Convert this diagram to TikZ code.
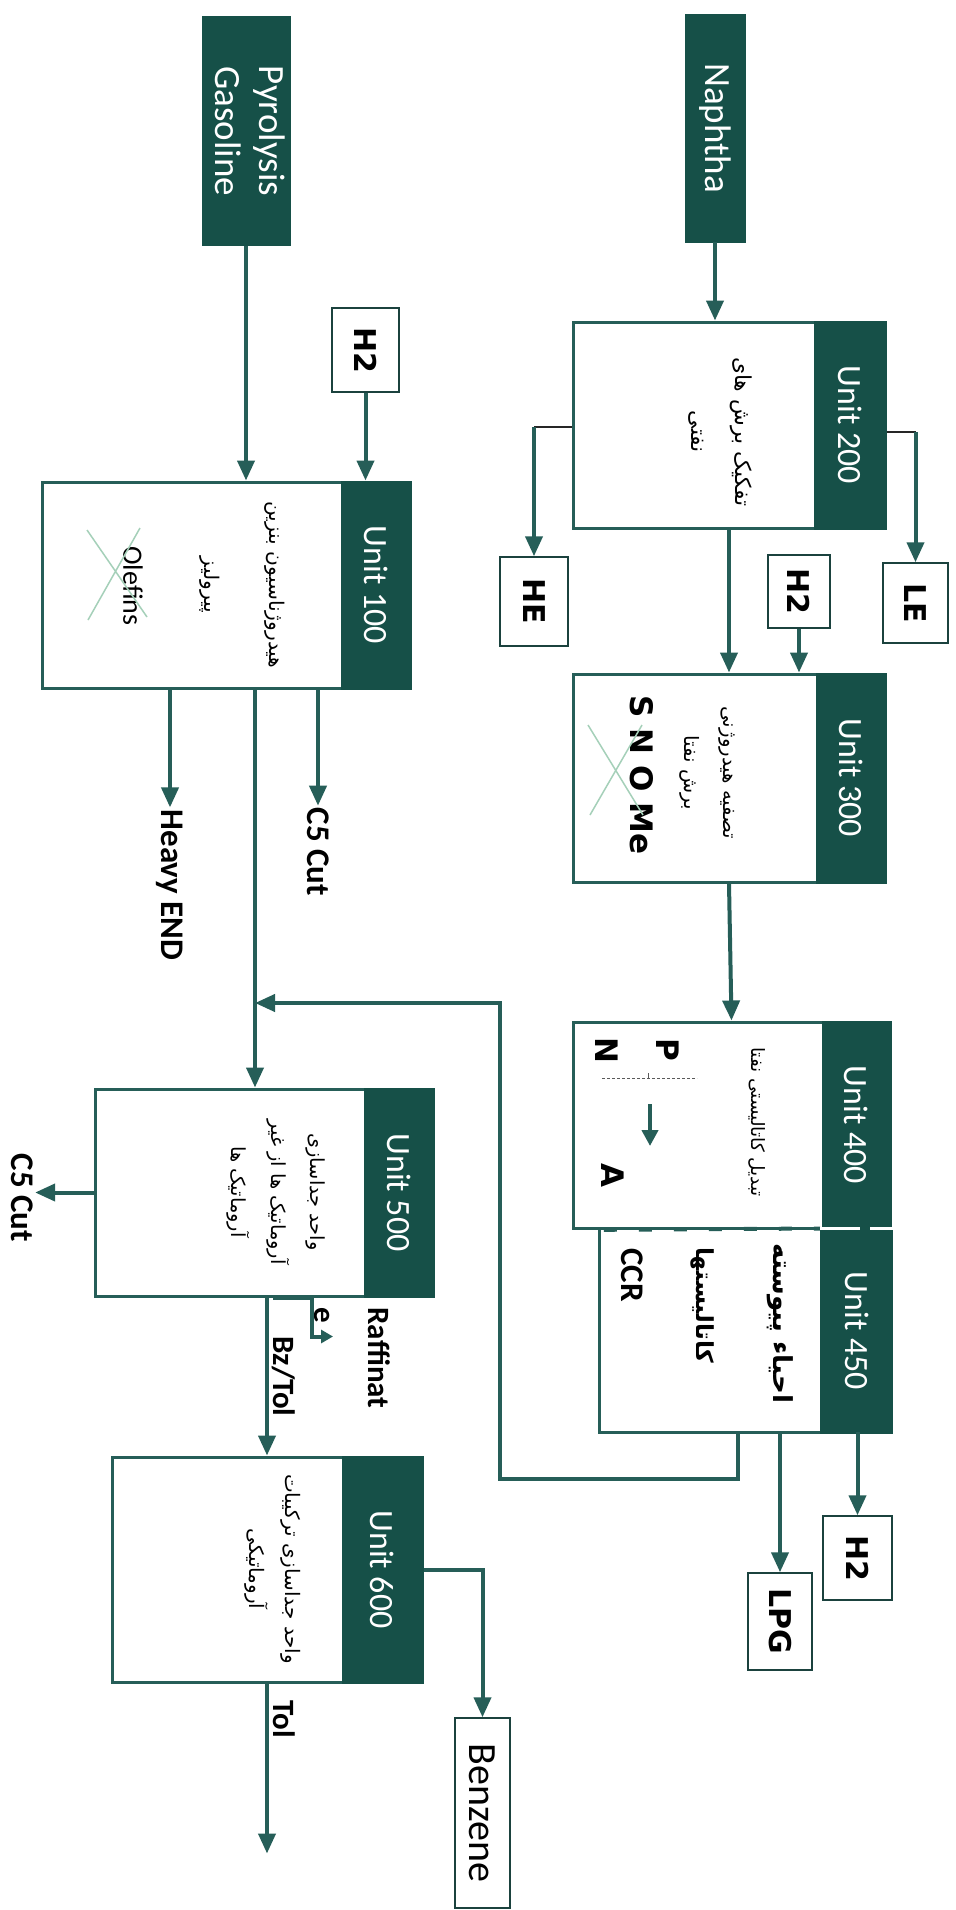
\documentclass[tikz,border=0pt]{standalone}
\usepackage{fontspec}
\setmainfont{Carlito}
\newfontfamily\boldsans{DejaVu Sans}
\newfontfamily\farsi[Script=Arabic]{DejaVu Sans}
\TeXXeTstate=1
\usetikzlibrary{arrows.meta}
\definecolor{headGreen}{RGB}{22,80,72}
\definecolor{flowGreen}{RGB}{38,94,88}
\definecolor{crossGreen}{RGB}{165,208,185}
\newcommand{\vtext}[1]{\rotatebox[origin=c]{-90}{#1}}
\newcommand{\fa}[1]{{\farsi\beginR #1\endR}}
\newcommand{\fablock}[2]{\resizebox{#1}{!}{\begin{tabular}{@{}c@{}}#2\end{tabular}}}

\begin{document}
\begin{tikzpicture}[x=1pt,y=-1pt,
  feed/.style={draw=headGreen,fill=headGreen,text=white,inner sep=0pt,font=\fontsize{37}{44}\selectfont},
  unitbox/.style={draw=flowGreen,line width=3pt,fill=white,inner sep=0pt},
  unithead/.style={draw=headGreen,line width=3pt,fill=headGreen,text=white,inner sep=0pt,font=\fontsize{34}{40}\selectfont},
  tag/.style={draw=flowGreen!70!black,line width=1.5pt,fill=white,inner sep=0pt,font=\boldsans\bfseries\fontsize{30}{36}\selectfont},
  flowlabel/.style={inner sep=2pt,font=\bfseries\fontsize{33}{38}\selectfont},
  fatext/.style={inner sep=0pt,font=\farsi\fontsize{20}{40}\selectfont},
  chem/.style={inner sep=0pt,font=\boldsans\bfseries\fontsize{31}{36}\selectfont},
  arr/.style={draw=flowGreen,line width=4pt,-{Triangle[length=20pt,width=17pt]}},
  tapline/.style={draw=black!85,line width=2pt},
  crossout/.style={draw=crossGreen,line width=1.5pt}]
\useasboundingbox (0,0) rectangle (955,1910);
\fill[white] (0,0) rectangle (955,1910);
% Feeds
\node[feed,minimum width=60,minimum height=228] (naphtha) at (715,128) {\vtext{Naphtha}};
\node[feed,minimum width=86,minimum height=229] (pyro) at (246,131)
  {\vtext{\begin{tabular}{@{}c@{}}Pyrolysis\\Gasoline\end{tabular}}};
% Unit boxes
\node[unitbox,minimum width=312,minimum height=206] (u200) at (729,425) {};
\node[unithead,minimum width=70,minimum height=206,anchor=east] (u200h) at (u200.east) {\vtext{Unit 200}};
\node[unitbox,minimum width=312,minimum height=208] (u300) at (729,778) {};
\node[unithead,minimum width=68,minimum height=208,anchor=east] (u300h) at (u300.east) {\vtext{Unit 300}};
\node[unitbox,minimum width=317,minimum height=206] (u400) at (731.5,1125) {};
\node[unithead,minimum width=67,minimum height=206,anchor=east] (u400h) at (u400.east) {\vtext{Unit 400}};
\node[fill=white,inner sep=0pt,minimum width=293,minimum height=202] (u450) at (746.5,1331) {};
\draw[flowGreen,line width=3pt] (u450.north west) -- (u450.south west) -- (u450.south east);
\node[unithead,minimum width=70,minimum height=202,anchor=east] (u450h) at (u450.east) {\vtext{Unit 450}};
\draw[flowGreen,line width=4pt,dash pattern=on 13pt off 22pt] ([xshift=4pt]u450.north west) -- (u450h.north west);
\draw[white,line width=2.5pt,dash pattern=on 40pt off 10pt] (u450h.north west) -- (u450h.north east);
\node[unitbox,minimum width=368,minimum height=206] (u100) at (226,585) {};
\node[unithead,minimum width=68,minimum height=206,anchor=east] (u100h) at (u100.east) {\vtext{Unit 100}};
\node[unitbox,minimum width=338,minimum height=207] (u500) at (264,1192.5) {};
\node[unithead,minimum width=68,minimum height=207,anchor=east] (u500h) at (u500.east) {\vtext{Unit 500}};
\node[unitbox,minimum width=310,minimum height=225] (u600) at (267,1569.5) {};
\node[unithead,minimum width=79,minimum height=225,anchor=east] (u600h) at (u600.east) {\vtext{Unit 600}};
% Unit texts
\node[fatext] (t200) at (722,432)
  {\vtext{\fablock{150pt}{\fa{تفکیک برش های}\\\fa{نفتی}}}};
\node[fatext,font=\farsi\fontsize{20}{39}\selectfont] (t300) at (712,773)
  {\vtext{\fablock{133pt}{\fa{تصفیه هیدروژنی}\\\fa{برش نفتا}}}};
\node[chem] (snome) at (642,775) {\vtext{S N O Me}};
\draw[crossout] (588,725) -- (643,815) (590,815) -- (642,725);
\node[fatext] (t400) at (757,1122) {\vtext{\resizebox{150pt}{!}{\fa{تبدیل کاتالیستی نفتا}}}};
\node[chem] (p) at (668,1050) {\vtext{P}};
\node[chem] (n) at (607,1050) {\vtext{N}};
\node[chem] (a) at (613,1175) {\vtext{A}};
\draw[gray!70!black,line width=0.8pt,densely dashed] (602,1078) -- (697,1078);
\draw[gray!70!black,line width=0.8pt] (648,1078) -- (648,1073);
\draw[arr,line width=4pt,-{Triangle[length=16pt,width=16pt]}] (650,1104) -- (650,1146);
\node[fatext,font=\farsi\bfseries\fontsize{26}{32}\selectfont,anchor=north] (t450a) at (780,1243)
  {\vtext{\resizebox{160pt}{!}{\fa{احیاء پیوسته}}}};
\node[fatext,font=\farsi\bfseries\fontsize{26}{32}\selectfont,anchor=north] (t450b) at (703,1247)
  {\vtext{\resizebox{116pt}{!}{\fa{کاتالیستها}}}};
\node[flowlabel,inner sep=0pt,anchor=north] (ccr) at (632,1248) {\vtext{CCR}};
\node[fatext,font=\farsi\fontsize{20}{64}\selectfont] (t100) at (250,585)
  {\vtext{\fablock{167pt}{\fa{هیدروژناسیون بنزین}\\\fa{پیرولیز}}}};
\node[inner sep=0pt,font=\fontsize{28}{32}\selectfont] (olefins) at (133,586) {\vtext{Olefins}};
\draw[crossout] (87,530) -- (147,617) (88,620) -- (140,528);
\node[fatext,font=\farsi\fontsize{20}{41}\selectfont] (t500) at (279,1192)
  {\vtext{\fablock{145pt}{\fa{واحد جداسازی}\\\fa{آروماتیک ها از غیر}\\\fa{آروماتیک ها}}}};
\node[fatext,font=\farsi\fontsize{20}{36}\selectfont] (t600) at (275,1569)
  {\vtext{\fablock{190pt}{\fa{واحد جداسازی ترکیبات}\\\fa{آروماتیکی}}}};
% Product and utility tags
\node[tag,minimum width=65,minimum height=80] (le) at (915.5,603) {\vtext{LE}};
\node[tag,minimum width=68,minimum height=89] (he) at (534,601.5) {\vtext{HE}};
\node[tag,minimum width=62,minimum height=73] (h2a) at (799,591.5) {\vtext{H2}};
\node[tag,minimum width=67,minimum height=84] (h2b) at (365.5,350) {\vtext{H2}};
\node[tag,minimum width=69,minimum height=84] (h2c) at (857.5,1558) {\vtext{H2}};
\node[tag,minimum width=64,minimum height=97] (lpg) at (780,1621.5) {\vtext{LPG}};
\node[tag,font=\fontsize{40}{46}\selectfont,minimum width=55,minimum height=190] (benz) at (482.5,1813) {\vtext{Benzene}};
% Stream labels
\node[flowlabel] (c5a) at (318,852) {\vtext{C5 Cut}};
\node[flowlabel] (heavy) at (170,885) {\vtext{Heavy END}};
\node[flowlabel] (c5b) at (22,1198) {\vtext{C5 Cut}};
\node[flowlabel,font=\bfseries\fontsize{31}{54}\selectfont] (raff) at (352,1358)
  {\vtext{\begin{tabular}{@{}l@{}}Raffinat\\e\end{tabular}}};
% Connections
\draw[arr] (naphtha) -- (naphtha |- u200.north);
\draw[tapline] ([yshift=-7pt]u200.east) -- ([yshift=-7pt]u200.east -| le);
\draw[arr] ([yshift=-7pt]u200.east -| le) -- (le.north);
\draw[tapline] ([yshift=-2pt]u200.west) -- ([yshift=-2pt]u200.west -| he);
\draw[arr] ([yshift=-2pt]u200.west -| he) -- (he.north);
\draw[arr] (u200.south) -- (u300.north);
\draw[arr] (h2a.south) -- (h2a.south |- u300.north);
\draw[arr] (u300.south) -- (u400.north);
\draw[arr] (u450.south -| h2c) -- (h2c.north);
\draw[arr] (u450.south -| lpg) -- (lpg.north);
\coordinate (merge) at (255,1003);
\draw[arr] ([xshift=-9pt]u450.south) -- ++(0,47) -| (500,1003) -- (merge);
\draw[arr] (pyro.south) -- (pyro.south |- u100.north);
\draw[arr] (h2b.south) -- (h2b.south |- u100.north);
\draw[arr] (u100.south -| c5a) -- (c5a.north);
\draw[arr] (u100.south -| heavy) -- (heavy.north);
\draw[arr] ([xshift=29pt]u100.south) -- ([xshift=-9pt]u500.north);
\draw[arr] (u500.west) -- (u500.west -| c5b.east);
\draw[arr,-{Triangle[length=12pt,width=13pt]}] ([xshift=9pt]u500.south) -- ++(39,0) -- ++(0,39) -- ++(21,0);
\draw[arr] (u500.south -| u600.north) -- (u600.north)
  node[midway,right=3pt,flowlabel,inner sep=0pt,font=\bfseries\fontsize{31}{36}\selectfont] (bz) {\vtext{Bz/Tol}};
\draw[arr] (u600.south) -- ++(0,170)
  node[pos=0.21,right=4pt,flowlabel,inner sep=0pt,font=\bfseries\fontsize{31}{36}\selectfont] (tol) {\vtext{Tol}};
\draw[arr] (u600.east) -| (benz.north);
\end{tikzpicture}
\end{document}
